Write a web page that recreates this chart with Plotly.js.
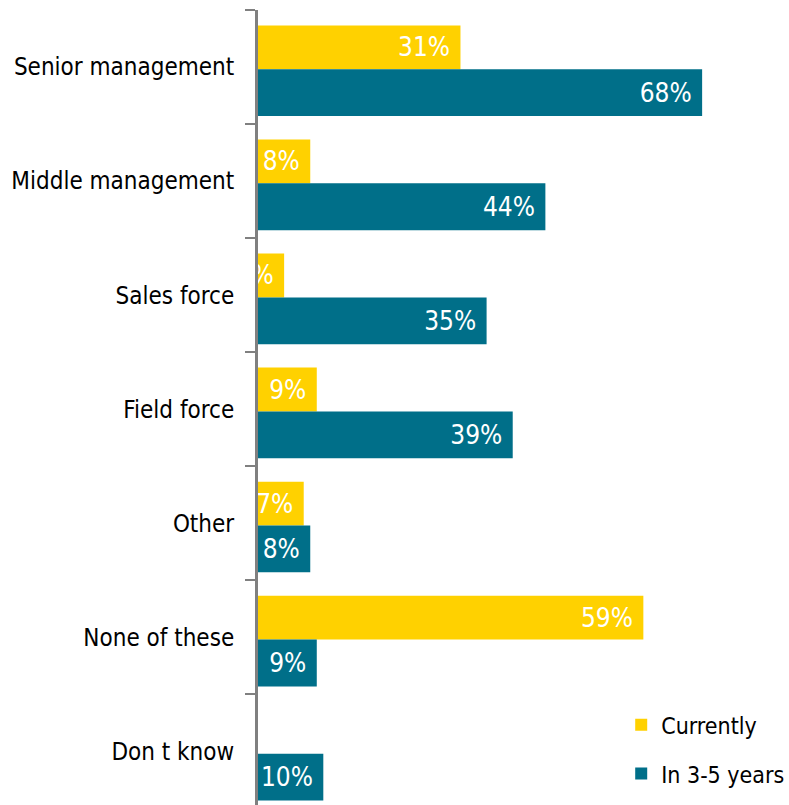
<!DOCTYPE html>
<html>
<head>
<meta charset="utf-8">
<script src="https://cdn.plot.ly/plotly-3.0.1.min.js"></script>
<style>html,body{margin:0;padding:0;background:#fff;}#chart{width:789px;height:805px;}</style>
</head>
<body>
<div id="chart"></div>
<script>
var categories = ['Senior management','Middle management','Sales force','Field force','Other','None of these','Don t know'];
var currently = [31, 8, 4, 9, 7, 59, null];
var in3to5 = [68, 44, 35, 39, 8, 9, 10];
var seriesNames = ['Currently', 'In 3-5 years'];

var FONT = '"DejaVu Sans Condensed", "Liberation Sans Narrow", "Arial Narrow", sans-serif';

var traces = [
  {
    type: 'bar', orientation: 'h', name: seriesNames[0], legendgroup: 'a',
    y: categories, x: currently,
    offset: -0.365, width: 0.385,
    marker: {color: '#FFD100'},
    texttemplate: '%{x}%\u00a0', textposition: 'inside', insidetextanchor: 'end', textangle: 0,
    textfont: {color: '#ffffff', size: 26, family: FONT},
    hoverinfo: 'none', cliponaxis: false
  },
  {
    type: 'bar', orientation: 'h', name: seriesNames[1], legendgroup: 'b',
    y: categories, x: in3to5,
    offset: 0.02, width: 0.41,
    marker: {color: '#006F89'},
    texttemplate: '%{x}%\u00a0', textposition: 'inside', insidetextanchor: 'end', textangle: 0,
    textfont: {color: '#ffffff', size: 26, family: FONT},
    hoverinfo: 'none', cliponaxis: false
  }
];

var layout = {
  width: 789, height: 805,
  margin: {l: 258, r: 0, t: 10, b: 0, autoexpand: false},
  paper_bgcolor: '#ffffff', plot_bgcolor: '#ffffff',
  font: {family: FONT, color: '#000000', size: 24},
  barmode: 'group',
  uniformtext: {minsize: 26, mode: 'show'},
  xaxis: {visible: false, range: [0, 81.3], fixedrange: true},
  yaxis: {
    type: 'category', categoryorder: 'array', categoryarray: categories,
    range: [6.47, -0.5],
    showline: true, linecolor: '#808080', linewidth: 3,
    ticks: 'outside', tickson: 'boundaries', ticklen: 10, tickwidth: 2, tickcolor: '#808080',
    ticklabelstandoff: 16,
    showgrid: false, zeroline: false,
    tickfont: {size: 24, color: '#000000', family: FONT}
  },
  showlegend: true,
  legend: {
    x: 0.684, y: 0.128, xanchor: 'left', yanchor: 'top',
    bgcolor: 'rgba(0,0,0,0)', font: {size: 23, color: '#000000', family: FONT},
    itemwidth: 30, tracegroupgap: 16, traceorder: 'grouped'
  }
};

Plotly.newPlot('chart', traces, layout, {displayModeBar: false, staticPlot: true});
</script>
</body>
</html>
